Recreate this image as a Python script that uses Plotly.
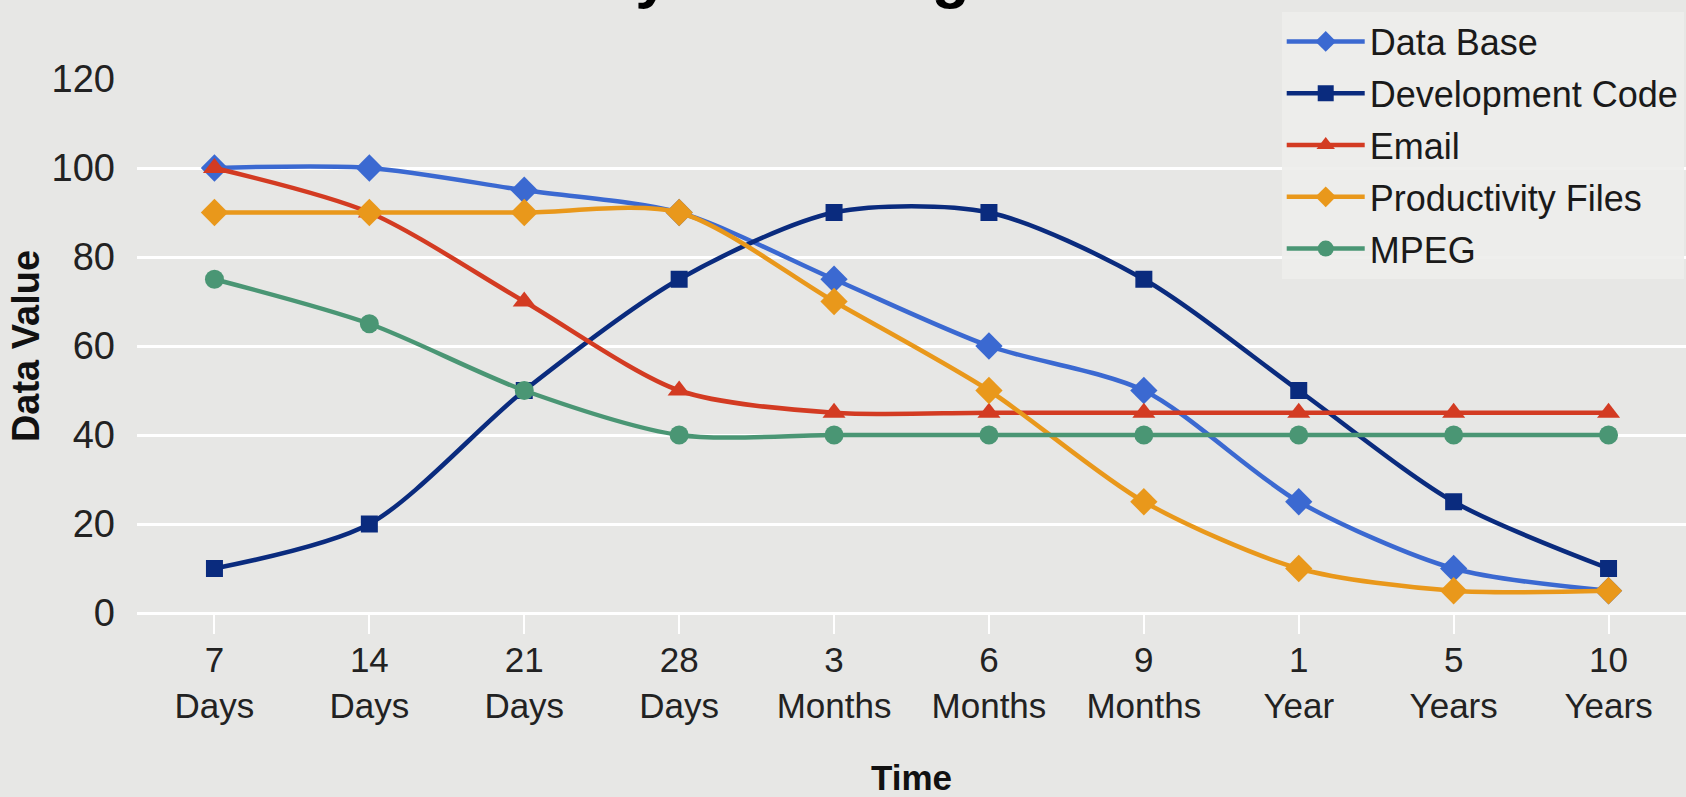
import plotly.graph_objects as go

categories = ["7<br>Days", "14<br>Days", "21<br>Days", "28<br>Days", "3<br>Months",
              "6<br>Months", "9<br>Months", "1<br>Year", "5<br>Years", "10<br>Years"]

data_base = [100, 100, 95, 90, 75, 60, 50, 25, 10, 5]
development_code = [10, 20, 50, 75, 90, 90, 75, 50, 25, 10]
email = [100, 90, 70, 50, 45, 45, 45, 45, 45, 45]
productivity_files = [90, 90, 90, 90, 70, 50, 25, 10, 5, 5]
mpeg = [75, 65, 50, 40, 40, 40, 40, 40, 40, 40]

y_ticks = [0, 20, 40, 60, 80, 100, 120]

series = [
    ("Data Base", data_base, "#3b69d1", "diamond", 21),
    ("Development Code", development_code, "#0a2b7e", "square", 17),
    ("Email", email, "#d33b22", "triangle-up", 20),
    ("Productivity Files", productivity_files, "#e9981b", "diamond", 21),
    ("MPEG", mpeg, "#4a9674", "circle", 19),
]

fig = go.Figure()
for name, vals, color, sym, size in series:
    fig.add_trace(go.Scatter(
        x=categories, y=vals, name=name, mode="lines+markers", legendgroup=name,
        line=dict(color=color, width=4.5, shape="spline", smoothing=0.8),
        marker=dict(symbol=sym, size=size, color=color),
    ))

FONT = "Liberation Sans, Arial, sans-serif"
BG = "#e7e7e5"

fig.update_layout(
    width=1686, height=797,
    margin=dict(l=137, r=0, t=79, b=184),
    paper_bgcolor=BG, plot_bgcolor=BG,
    font=dict(family=FONT, color="#222222"),
    showlegend=True,
    legend=dict(
        x=0.739, y=1.1264, xanchor="left", yanchor="top",
        bgcolor="rgba(238,238,236,0.92)",
        font=dict(size=36, color="#1a1a1a", family=FONT),
        itemwidth=78, tracegroupgap=2,
    ),
    xaxis=dict(
        type="category", range=[-0.5, 9.5], automargin=False,
        showgrid=False, zeroline=False, showline=False,
        ticks="outside", ticklen=20, tickwidth=2, tickcolor="#ffffff",
        tickfont=dict(size=35, color="#222222"),
        ticklabelstandoff=-4,
        title=dict(text="<b>Time</b>", font=dict(size=35, color="#111111"), standoff=46),
    ),
    yaxis=dict(
        range=[0, 120], tickvals=y_ticks, automargin=False,
        showgrid=True, gridcolor="#ffffff", gridwidth=3,
        zeroline=True, zerolinecolor="#ffffff", zerolinewidth=3,
        showline=False, ticks="",
        tickfont=dict(size=38, color="#222222"),
        ticklabelstandoff=21,
        title=dict(text="<b>Data Value</b>", font=dict(size=38, color="#111111"), standoff=0),
    ),
    annotations=[dict(
        text="<b>Data Lifecycle Management</b>", xref="paper", yref="paper",
        x=0.0, xshift=200, y=1.127, xanchor="left", yanchor="bottom",
        showarrow=False, font=dict(size=62, color="#000000", family=FONT),
    )],
)

fig.write_html("out.html")
